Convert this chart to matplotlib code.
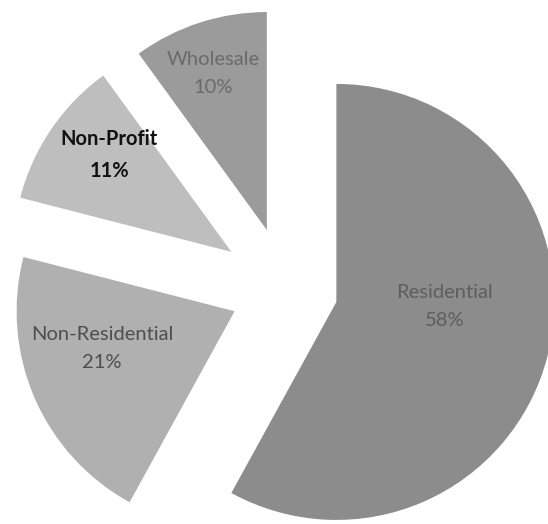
import numpy as np
import matplotlib
matplotlib.use("Agg")
import matplotlib.pyplot as plt

# data
categories = ["Residential", "Non-Residential", "Non-Profit", "Wholesale"]
shares = [58, 21, 11, 10]

# styling / layout (explode is in data units = pixels here)
colors = ["#8c8c8c", "#b0b0b0", "#bebebe", "#9b9b9b"]
text_colors = ["#5e5e5e", "#4e4e4e", "#111111", "#6a6a6a"]
weights = ["normal", "normal", "bold", "normal"]
explode = [52, 56, 66, 62]
label_pos = [(445, 217.5), (102, 175.5), (109, 369), (213, 450.5)]

W, H = 548, 524
fig = plt.figure(figsize=(W / 100, H / 100), dpi=100)
ax = fig.add_axes([0, 0, 1, 1])

wedges, texts = ax.pie(shares, explode=explode, colors=colors, startangle=90,
                       counterclock=False, radius=218, center=(286, 235),
                       wedgeprops=dict(linewidth=0), frame=False)
ax.set_xlim(0, W)
ax.set_ylim(0, H)
ax.set_aspect("equal")
ax.axis("off")

for i, cat in enumerate(categories):
    ax.text(label_pos[i][0], label_pos[i][1], f"{cat}\n{shares[i]}%",
            ha="center", va="center", fontsize=14.5, family="Lato",
            color=text_colors[i], fontweight=weights[i], linespacing=1.75)

fig.savefig("out.png", dpi=100, facecolor="white")
